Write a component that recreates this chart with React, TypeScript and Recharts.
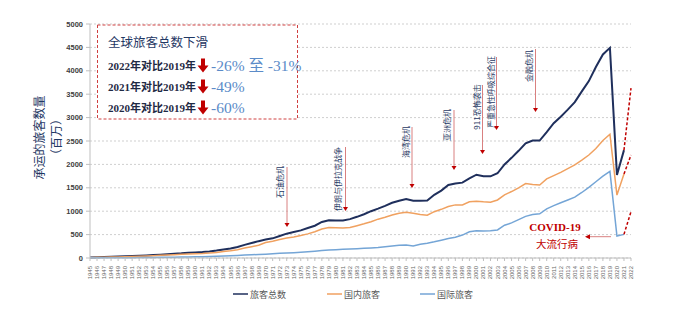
import { LineChart, Line, XAxis, YAxis, CartesianGrid } from 'recharts';

const years = [
  1945, 1946, 1947, 1948, 1949,
  1950, 1951, 1952, 1953, 1954, 1955, 1956, 1957, 1958, 1959,
  1960, 1961, 1962, 1963, 1964, 1965, 1966, 1967, 1968, 1969,
  1970, 1971, 1972, 1973, 1974, 1975, 1976, 1977, 1978, 1979,
  1980, 1981, 1982, 1983, 1984, 1985, 1986, 1987, 1988, 1989,
  1990, 1991, 1992, 1993, 1994, 1995, 1996, 1997, 1998, 1999,
  2000, 2001, 2002, 2003, 2004, 2005, 2006, 2007, 2008, 2009,
  2010, 2011, 2012, 2013, 2014, 2015, 2016, 2017, 2018, 2019,
  2020, 2021, 2022,
];

// million passengers, 1945-2021
const totalPassengers = [
  10, 18, 22, 26, 30,
  35, 42, 48, 55, 62, 72, 82, 92, 100, 112,
  120, 128, 140, 158, 180, 205, 235, 280, 320, 360,
  395, 420, 470, 520, 555, 590, 640, 690, 770, 805,
  800, 800, 830, 880, 935, 1000, 1055, 1115, 1180, 1225,
  1260, 1222, 1222, 1230, 1350, 1440, 1560, 1590, 1610, 1700,
  1780, 1745, 1745, 1810, 2000, 2140, 2290, 2450, 2510, 2510,
  2690, 2880, 3020, 3170, 3330, 3560, 3780, 4080, 4350, 4490,
  1775, 2305,
];

const domesticPassengers = [
  8, 15, 18, 21, 24,
  28, 34, 38, 44, 50, 57, 65, 72, 78, 87,
  93, 98, 107, 120, 137, 155, 178, 212, 242, 272,
  330, 360, 395, 425, 450, 480, 515, 560, 620, 650,
  645, 640, 650, 690, 730, 775, 830, 870, 920, 955,
  975, 955, 930, 915, 990, 1040, 1100, 1135, 1135, 1200,
  1215, 1200, 1190, 1240, 1350, 1420, 1500, 1590, 1570, 1560,
  1690, 1760, 1830, 1910, 1990, 2090, 2200, 2340, 2510, 2645,
  1345, 1795,
];

const internationalPassengers = [
  2, 3, 4, 5, 6,
  7, 8, 10, 11, 12, 14, 16, 18, 20, 23,
  26, 29, 32, 36, 42, 48, 55, 62, 68, 75,
  82, 90, 100, 108, 114, 122, 132, 145, 158, 172,
  178, 185, 190, 198, 206, 215, 225, 240, 258, 270,
  280, 258, 295, 315, 345, 380, 415, 445, 490, 560,
  580, 575, 580, 600, 700, 750, 820, 890, 930, 945,
  1050, 1120, 1180, 1240, 1300, 1400, 1510, 1630, 1750, 1850,
  470, 505,
];

// dashed outlook 2021 -> 2022
const outlookYears = [2021, 2022];
const totalOutlook = [2305, 3630];
const domesticOutlook = [1795, 2200];
const internationalOutlook = [505, 990];

const yTicks = [0, 500, 1000, 1500, 2000, 2500, 3000, 3500, 4000, 4500, 5000];

const declines = [
  { label: '2022年对比2019年', change: '-26% 至 -31%' },
  { label: '2021年对比2019年', change: '-49%' },
  { label: '2020年对比2019年', change: '-60%' },
];

const events = [
  { name: '石油危机', tx: 279, ty: 182, lx: 287, top: 167, bottom: 227 },
  { name: '伊朗与伊拉克战争', tx: 337, ty: 179, lx: 345.5, top: 147, bottom: 211 },
  { name: '海湾危机', tx: 405, ty: 142, lx: 412, top: 127, bottom: 188 },
  { name: '亚洲危机', tx: 446.5, ty: 125, lx: 454, top: 110, bottom: 170 },
  { name: '911恐怖袭击', tx: 476.5, ty: 107, lx: 482.5, top: 85, bottom: 154 },
  { name: '严重急性呼吸综合征', tx: 490.5, ty: 92, lx: 496.5, top: 57, bottom: 130 },
  { name: '金融危机', tx: 528, ty: 66, lx: 535.5, top: 49, bottom: 112 },
];

const series = [
  { key: 'total', name: '旅客总数', color: '#1f2f5c', width: 2, lx: 233 },
  { key: 'domestic', name: '国内旅客', color: '#f0a160', width: 1.5, lx: 327 },
  { key: 'international', name: '国际旅客', color: '#74a5d6', width: 1.5, lx: 420 },
];

const data = years.map((year, i) => {
  const o = outlookYears.indexOf(year);
  return {
    year,
    total: i < totalPassengers.length ? totalPassengers[i] : null,
    domestic: i < domesticPassengers.length ? domesticPassengers[i] : null,
    international: i < internationalPassengers.length ? internationalPassengers[i] : null,
    totalOutlook: o >= 0 ? totalOutlook[o] : null,
    domesticOutlook: o >= 0 ? domesticOutlook[o] : null,
    internationalOutlook: o >= 0 ? internationalOutlook[o] : null,
  };
});

const cjk = "'Noto Sans CJK SC', sans-serif";
const serif = "'Liberation Serif', 'Noto Sans CJK SC', serif";
const navy = '#1f3864';
const red = '#c00000';

function YearTick({ x, y, payload }: any) {
  return (
    <text
      x={x}
      y={y + 3}
      transform={`rotate(-90, ${x}, ${y + 3})`}
      textAnchor="end"
      dominantBaseline="central"
      fontSize={6}
      fill="#666"
      fontFamily="'Liberation Sans', sans-serif"
    >
      {payload.value}
    </text>
  );
}

function DownArrow({ cx, cy }: { cx: number; cy: number }) {
  return (
    <path
      d={`M${cx - 2},${cy - 7} h4 v7 h3.5 l-5.5,7 l-5.5,-7 h3.5 z`}
      fill={red}
    />
  );
}

export default function App() {
  return (
    <div style={{ position: 'absolute', left: 0, top: 0, width: 700, height: 333, background: '#fff' }}>
      <LineChart
        width={700}
        height={333}
        data={data}
        margin={{ top: 24, right: 69, bottom: 0, left: 0 }}
      >
        <CartesianGrid vertical={false} stroke="#cfcfcf" strokeDasharray="2 2" />
        <XAxis
          dataKey="year"
          interval={0}
          height={75}
          tick={<YearTick />}
          tickSize={3}
          axisLine={{ stroke: '#bfbfbf' }}
          tickLine={{ stroke: '#bfbfbf' }}
        />
        <YAxis
          width={90}
          domain={[0, 5000]}
          ticks={yTicks}
          tickSize={4}
          tickMargin={3}
          axisLine={{ stroke: '#bfbfbf' }}
          tickLine={{ stroke: '#bfbfbf' }}
          tick={{ fontSize: 7.5, fontWeight: 'bold', fill: '#404040', fontFamily: "'Liberation Sans', sans-serif" }}
        />
        {series.map((s) => (
          <Line
            key={s.key}
            type="linear"
            dataKey={s.key}
            name={s.name}
            stroke={s.color}
            strokeWidth={s.width}
            dot={false}
            isAnimationActive={false}
          />
        ))}
        {['totalOutlook', 'domesticOutlook', 'internationalOutlook'].map((k) => (
          <Line
            key={k}
            type="linear"
            dataKey={k}
            stroke={red}
            strokeWidth={1.5}
            strokeDasharray="3 2"
            dot={false}
            isAnimationActive={false}
          />
        ))}
      </LineChart>

      <svg
        width={700}
        height={333}
        style={{ position: 'absolute', left: 0, top: 0, pointerEvents: 'none' }}
      >
        {/* y axis title */}
        <g fill={navy} fontFamily={cjk} fontSize={12}>
          <text x={38} y={137.5} transform="rotate(-90, 38, 137.5)" textAnchor="middle" dominantBaseline="central">
            承运的旅客数量
          </text>
          <text x={55} y={137} transform="rotate(-90, 55, 137)" textAnchor="middle" dominantBaseline="central">
            （百万）
          </text>
        </g>

        {/* summary box */}
        <rect x={97.5} y={25} width={200} height={94} fill="#fff" stroke="#d04040" strokeDasharray="3 2" strokeWidth={1} />
        <text x={108} y={46.5} fill={navy} fontFamily={cjk} fontSize={12.5}>
          全球旅客总数下滑
        </text>
        {declines.map((d, i) => {
          const base = 69.5 + i * 21;
          return (
            <g key={d.label}>
              <text x={108} y={base} fill="#1f2a44" fontFamily={serif} fontWeight="bold" fontSize={11}>
                {d.label}
              </text>
              <DownArrow cx={203} cy={base - 4} />
              <text x={211} y={base + 1} fill="#5b8bc8" fontFamily={serif} fontSize={15.5}>
                {d.change}
              </text>
            </g>
          );
        })}

        {/* events */}
        {events.map((e) => (
          <g key={e.name}>
            <text
              x={e.tx}
              y={e.ty}
              transform={`rotate(-90, ${e.tx}, ${e.ty})`}
              textAnchor="middle"
              dominantBaseline="central"
              fill={navy}
              fontFamily={cjk}
              fontSize={8}
            >
              {e.name}
            </text>
            <line x1={e.lx} y1={e.top} x2={e.lx} y2={e.bottom - 3} stroke="#d98080" strokeWidth={1} />
            <path d={`M${e.lx - 2.5},${e.bottom - 4} h5 l-2.5,4 z`} fill={red} />
          </g>
        ))}

        {/* covid note */}
        <text x={555} y={231} textAnchor="middle" fill={red} fontFamily={serif} fontWeight="bold" fontSize={11}>
          COVID-19
        </text>
        <text x={557} y={247.5} textAnchor="middle" fill={red} fontFamily={cjk} fontSize={10.5}>
          大流行病
        </text>
        <line x1={589} y1={236.7} x2={611} y2={236.7} stroke="#d98080" strokeWidth={1} />
        <path d="M585,236.7 l5,-2.5 v5 z" fill={red} />

        {/* legend */}
        {series.map((s) => (
          <g key={s.key}>
            <line x1={s.lx} y1={294} x2={s.lx + 15} y2={294} stroke={s.color} strokeWidth={1.5} />
            <text x={s.lx + 17} y={294} dominantBaseline="central" fontSize={9} fill="#595959" fontFamily={cjk}>
              {s.name}
            </text>
          </g>
        ))}
      </svg>
    </div>
  );
}
